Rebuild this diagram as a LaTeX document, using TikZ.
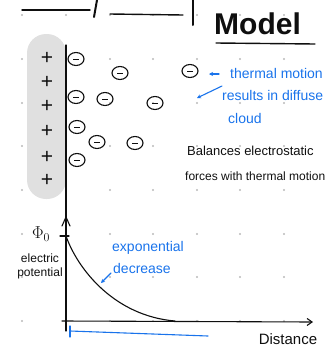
\documentclass[tikz,border=0pt]{standalone}
\usepackage{fontspec}
\setmainfont{Liberation Sans}
\usetikzlibrary{arrows.meta,shapes.geometric}
\definecolor{pen}{RGB}{15,15,15}
\definecolor{ink}{RGB}{25,115,235}
\definecolor{dotc}{RGB}{185,185,185}
\definecolor{slab}{RGB}{224,224,224}
\begin{document}
\begin{tikzpicture}[x=1pt,y=-1pt,
  stroke/.style={draw=pen,line width=1.1pt,line cap=round,line join=round},
  bluestroke/.style={draw=ink,line width=1.1pt,line cap=round,line join=round},
  ion/.style={ellipse,draw=pen,line width=1.1pt,minimum width=16pt,minimum height=13pt,inner sep=0pt,
    path picture={\draw[pen,line width=1pt] ([xshift=-3pt]path picture bounding box.center) -- ([xshift=3pt]path picture bounding box.center);}},
  plus/.style={text=pen,font=\fontsize{21}{21}\selectfont,inner sep=0pt},
  bluetxt/.style={text=ink,font=\fontsize{14}{15}\selectfont,inner sep=0pt,anchor=west},
  blacktxt/.style={text=pen,font=\fontsize{13}{14}\selectfont,inner sep=0pt,anchor=west},
  gdot/.style={fill=dotc,draw=none}
]
\useasboundingbox (0,0) rectangle (326,349);
\clip (0,0) rectangle (326,349);
% grid dots
\foreach \gx in {22,66,110,153,197,240,284}
  \foreach \gy in {15,59,103,146,190,234,277,321}
    \fill[gdot] (\gx,\gy) circle (1.2pt);
% title remnants
\draw[stroke,line width=1.4pt] (22,10) -- (90,10);
\draw[stroke,line width=2pt] (97,0) -- (94,17);
\draw[stroke,line width=1.4pt] (110,14) -- (183,15);
\draw[stroke,line width=2pt] (193,0) -- (193,25);
\node[text=pen,font=\bfseries\fontsize{30}{30}\selectfont,inner sep=0pt,anchor=west] (model) at (214,24) {Model};
\draw[stroke,line width=1.4pt] (216,43) -- (315,44);
% charged slab
\fill[slab,rounded corners=19pt] (27,199) -- (27,34) -- (66,34) -- (66,199) -- cycle;
\foreach \i/\py in {1/58,2/82,3/106,4/131,5/157,6/180}
  \node[plus] (p\i) at (47,\py) {+};
% electrode / potential axis
\coordinate (ytop) at (66,45);
\coordinate (ybot) at (66,331);
\draw[stroke] (ytop) -- (ybot);
\draw[stroke] (62,226) -- (66,217) -- (70,226);
% ions
\node[ion] (e1) at (76,59) {};
\node[ion] (e2) at (120,73) {};
\node[ion] (e3) at (190,71) {};
\node[ion] (e4) at (76,97) {};
\node[ion] (e5) at (105,99) {};
\node[ion] (e6) at (155,103) {};
\node[ion] (e7) at (77,127) {};
\node[ion] (e8) at (97,142) {};
\node[ion] (e9) at (135,143) {};
\node[ion] (e10) at (77,160) {};
% blue annotation
\node[bluetxt] (t1) at (230,73) {thermal motion};
\node[bluetxt] (t2) at (222,95) {results in diffuse};
\node[bluetxt] (t3) at (228,118) {cloud};
\coordinate (a1s) at (219,74);
\coordinate (a1e) at (209,74);
\draw[bluestroke,-{Stealth[length=4pt,width=4pt]}] (a1s) -- (a1e);
\coordinate (a2s) at (222,86);
\coordinate (a2e) at (197,98);
\draw[bluestroke,-{Stealth[length=4pt,width=4pt]}] (a2s) -- (a2e);
% black annotation
\node[blacktxt] (b1) at (187,151) {Balances electrostatic};
\node[blacktxt,font=\fontsize{12}{13}\selectfont] (b2) at (185,176) {forces with thermal motion};
% potential plot
\node[text=pen,font=\fontsize{17}{17}\selectfont,inner sep=0pt] (phi) at (41,234) {$\Phi_0$};
\draw[stroke] (60,236) -- (69,236);
\node[text=pen,font=\fontsize{12}{14}\selectfont,inner sep=0pt,align=center] (elec) at (40,266) {electric\\potential};
\coordinate (xorig) at (62,321);
\coordinate (xend) at (313,322);
\draw[stroke,-{Straight Barb[length=5pt,width=7pt]}] (xorig) -- (xend);
\coordinate (c0) at (66,236);
\coordinate (c1) at (175,321);
\draw[stroke] (c0) .. controls (78,270) and (115,316) .. (c1);
\node[text=pen,font=\fontsize{15}{15}\selectfont,inner sep=0pt] (dist) at (288,339) {Distance};
\node[bluetxt] (ex1) at (112,248) {exponential};
\node[bluetxt] (ex2) at (113,268) {decrease};
\coordinate (a3s) at (111,273);
\coordinate (a3e) at (101,283);
\draw[bluestroke,-{Stealth[length=4pt,width=4pt]}] (a3s) -- (a3e);
\coordinate (br1) at (70,326);
\coordinate (br2) at (70,337);
\coordinate (br3) at (70,331);
\coordinate (br4) at (208,336);
\draw[bluestroke] (br1) -- (br2);
\draw[bluestroke] (br3) -- (br4);
\end{tikzpicture}
\end{document}
